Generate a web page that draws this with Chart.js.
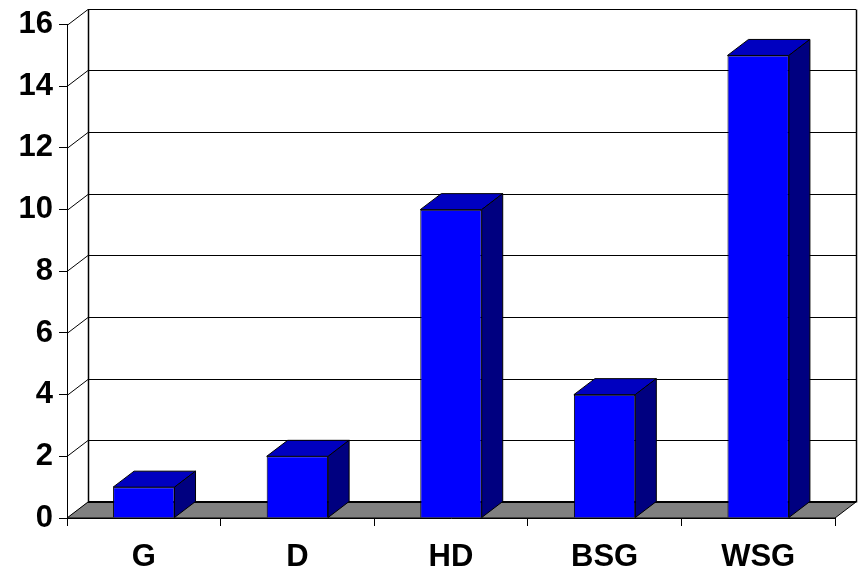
<!DOCTYPE html>
<html>
<head>
<meta charset="utf-8">
<script src="https://cdn.jsdelivr.net/npm/chart.js@4/dist/chart.umd.min.js"></script>
<style>
  html, body { margin: 0; padding: 0; background: #fff; }
  #wrap { width: 866px; height: 580px; }
</style>
</head>
<body>
<div id="wrap"><canvas id="grafico" width="866" height="580"></canvas></div>
<script>
const categorias = ['G', 'D', 'HD', 'BSG', 'WSG'];
const valores = [1, 2, 10, 4, 15];
const yTicks = [0, 2, 4, 6, 8, 10, 12, 14, 16];

// depth offset of the pseudo-3D box
const DX = 21, DY = -16;

const caixa3d = {
    id: 'caixa3d',
    beforeDatasetsDraw(chart) {
        const { ctx, chartArea: a, scales: { y } } = chart;
        const y0 = y.getPixelForValue(0);
        ctx.save();
        ctx.lineWidth = 1;
        ctx.strokeStyle = '#000';

        // back wall gridlines + left wall diagonals
        yTicks.forEach(v => {
            const py = Math.round(y.getPixelForValue(v)) + 0.5;
            ctx.beginPath();
            ctx.moveTo(a.left + DX, py + DY);
            ctx.lineTo(a.right + DX, py + DY);
            ctx.moveTo(a.left, py);
            ctx.lineTo(a.left + DX, py + DY);
            ctx.stroke();
        });
        // wall verticals
        const yt = Math.round(y.getPixelForValue(16)) + 0.5 + DY;
        const yb = Math.round(y0) + 0.5 + DY;
        ctx.lineWidth = 1.5;
        ctx.beginPath();
        ctx.moveTo(a.left + DX + 0.5, yt);
        ctx.lineTo(a.left + DX + 0.5, yb);
        ctx.moveTo(a.right + DX + 0.5, yt);
        ctx.lineTo(a.right + DX + 0.5, yb);
        ctx.stroke();

        // floor
        ctx.lineWidth = 1;
        ctx.beginPath();
        ctx.moveTo(a.left, y0);
        ctx.lineTo(a.right, y0);
        ctx.lineTo(a.right + DX, y0 + DY);
        ctx.lineTo(a.left + DX, y0 + DY);
        ctx.closePath();
        ctx.fillStyle = '#808080';
        ctx.fill();
        ctx.stroke();
        ctx.lineWidth = 2;
        ctx.beginPath();
        ctx.moveTo(a.left + DX, y0 + DY);
        ctx.lineTo(a.right + DX, y0 + DY);
        ctx.stroke();
        ctx.restore();
    },
    afterDatasetsDraw(chart) {
        const { ctx } = chart;
        const meta = chart.getDatasetMeta(0);
        ctx.save();
        ctx.lineWidth = 1;
        ctx.strokeStyle = '#000';
        ctx.lineJoin = 'round';
        meta.data.forEach(bar => {
            const { x, y, base, width } = bar.getProps(['x', 'y', 'base', 'width'], true);
            const l = x - width / 2, r = x + width / 2;
            // top face
            ctx.beginPath();
            ctx.moveTo(l, y);
            ctx.lineTo(r, y);
            ctx.lineTo(r + DX, y + DY);
            ctx.lineTo(l + DX, y + DY);
            ctx.closePath();
            ctx.fillStyle = '#0000C0';
            ctx.fill();
            ctx.stroke();
            // side face
            ctx.beginPath();
            ctx.moveTo(r, y);
            ctx.lineTo(r + DX, y + DY);
            ctx.lineTo(r + DX, base + DY);
            ctx.lineTo(r, base);
            ctx.closePath();
            ctx.fillStyle = '#000080';
            ctx.fill();
            ctx.stroke();
        });
        ctx.restore();
    }
};

const fonte = { family: 'Arial, "Liberation Sans", sans-serif', size: 31, weight: 'bold' };

new Chart(document.getElementById('grafico'), {
    type: 'bar',
    data: {
        labels: categorias,
        datasets: [{
            data: valores,
            backgroundColor: '#0000FF',
            borderColor: '#000',
            borderWidth: 1,
            categoryPercentage: 1,
            barPercentage: 0.4,
        }]
    },
    options: {
        responsive: false,
        animation: false,
        layout: { padding: { top: 19, right: 31, left: 0, bottom: 0 } },
        plugins: { legend: { display: false }, tooltip: { enabled: false } },
        scales: {
            x: {
                afterFit: s => { s.height = 62; },
                grid: { drawOnChartArea: false, drawTicks: true, tickLength: 8, color: '#000' },
                border: { display: true, color: '#000', width: 1 },
                ticks: { color: '#000', font: fonte, padding: 13 },
            },
            y: {
                min: 0,
                max: 16,
                afterFit: s => { s.width = 67; },
                afterBuildTicks: s => { s.ticks = yTicks.map(v => ({ value: v })); },
                grid: { drawOnChartArea: false, drawTicks: true, tickLength: 8, color: '#000' },
                border: { display: true, color: '#000', width: 1 },
                ticks: { color: '#000', font: fonte, padding: 6 },
            }
        }
    },
    plugins: [caixa3d]
});
</script>
</body>
</html>
